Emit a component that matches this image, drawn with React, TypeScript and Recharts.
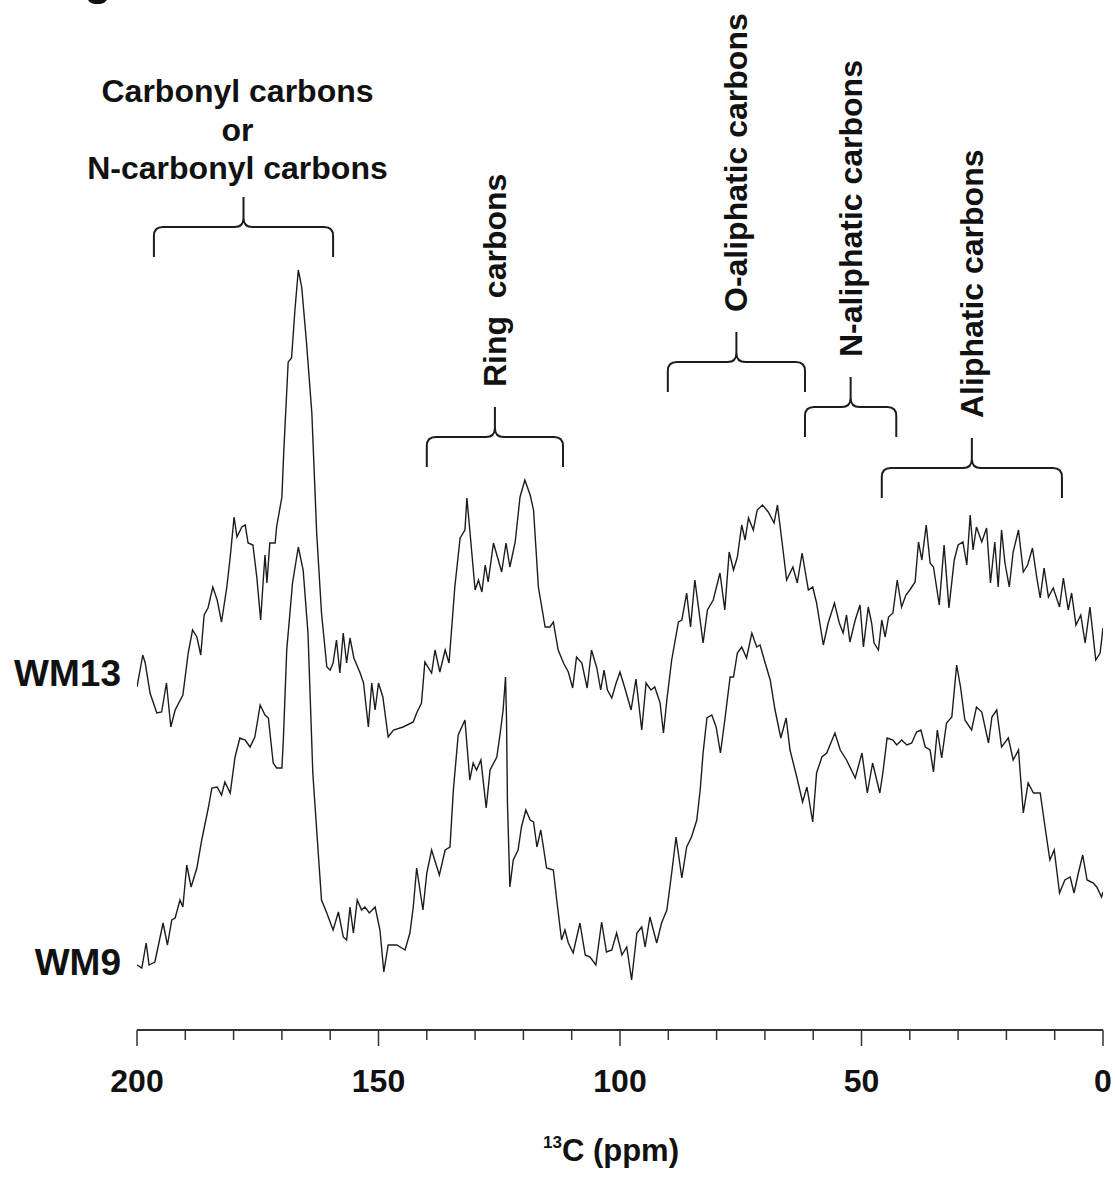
import React from 'react';
import { LineChart, Line, XAxis, YAxis, ReferenceArea, ReferenceDot, Label } from 'recharts';

// [ppm, intensity (a.u.)]
const wm13: [number, number][] = [
  [200.0,343],[198.8,375],[198.3,367],[197.3,337],[195.9,317],[194.9,318],[193.9,347],[193.0,303],[192.1,320],[190.5,335],
  [189.4,377],[188.5,400],[187.6,393],[186.8,375],[186.1,415],[185.3,422],[184.3,443],[183.4,430],[182.5,408],[181.4,443],
  [180.7,473],[179.9,513],[179.3,493],[178.3,503],[177.6,505],[177.0,487],[176.0,485],[175.2,453],[174.4,410],[173.9,447],
  [173.5,475],[173.1,447],[172.5,487],[171.4,487],[171.1,503],[170.0,533],[169.6,580],[168.7,668],[168.0,672],[167.3,720],
  [166.6,760],[165.9,743],[164.9,687],[163.8,617],[162.8,497],[161.8,417],[160.7,363],[160.0,360],[159.4,367],[158.7,390],
  [158.0,357],[157.3,397],[156.6,367],[155.9,392],[155.1,372],[153.8,357],[153.1,347],[152.1,303],[151.4,347],[150.7,320],
  [150.0,347],[149.1,333],[148.0,293],[146.9,300],[144.9,303],[142.8,308],[142.1,317],[141.1,327],[140.4,368],[139.0,357],
  [138.3,380],[137.3,358],[136.2,380],[135.4,367],[134.2,443],[133.1,492],[132.1,500],[131.7,532],[131.1,500],[130.0,440],
  [129.3,450],[128.6,438],[127.9,465],[127.3,448],[126.2,487],[125.2,470],[124.5,458],[123.6,487],[122.8,463],[121.7,488],
  [120.7,533],[119.7,550],[118.6,535],[117.9,520],[116.9,443],[115.5,403],[114.5,403],[113.8,408],[112.8,380],[111.7,367],
  [110.7,358],[109.8,342],[109.0,373],[107.9,367],[106.8,342],[105.9,380],[104.8,362],[104.0,340],[103.3,360],[102.6,340],
  [101.7,332],[100.8,347],[100.0,358],[99.0,342],[97.7,320],[96.7,351],[95.5,300],[94.6,347],[93.6,340],[92.8,343],
  [91.7,327],[91.0,297],[90.3,330],[89.3,370],[87.9,408],[87.2,410],[86.2,437],[85.4,403],[84.5,450],[83.6,417],
  [82.8,387],[81.9,420],[80.7,430],[79.3,457],[78.3,420],[77.4,478],[76.5,460],[75.7,473],[74.8,505],[74.1,490],
  [73.4,512],[72.4,500],[71.6,520],[70.5,525],[69.3,518],[68.1,507],[67.4,525],[66.5,490],[65.5,450],[64.2,463],
  [63.3,447],[62.3,477],[61.0,440],[60.1,443],[59.3,427],[57.9,385],[56.9,407],[55.6,427],[54.6,407],[53.8,397],
  [53.1,415],[52.4,388],[51.3,410],[50.3,425],[49.6,383],[48.6,423],[47.9,407],[47.4,387],[46.5,380],[45.8,410],
  [45.1,393],[44.4,413],[43.5,417],[42.6,450],[41.7,423],[40.8,435],[40.0,440],[38.9,448],[38.2,488],[37.5,470],
  [36.6,505],[35.8,467],[35.1,463],[33.9,425],[32.9,485],[31.9,422],[30.8,470],[30.0,485],[29.0,488],[28.2,465],
  [27.5,515],[26.9,480],[26.2,503],[25.1,488],[24.1,502],[23.3,447],[22.4,488],[21.7,443],[21.0,500],[20.3,467],
  [19.4,443],[18.6,478],[17.5,500],[16.5,458],[15.6,465],[14.6,482],[13.7,452],[13.0,432],[12.2,462],[11.3,433],
  [10.3,442],[9.0,423],[8.2,452],[7.2,420],[6.5,437],[5.6,405],[4.6,415],[3.7,387],[2.7,423],[1.5,370],
  [0.6,377],[0.0,402],
];

const wm9: [number, number][] = [
  [200.0,65],[199.0,62],[198.1,87],[197.5,65],[196.3,68],[194.6,107],[193.7,85],[192.8,110],[192.1,112],[191.1,130],
  [190.5,123],[189.7,165],[188.8,143],[187.6,162],[186.6,190],[185.2,223],[184.5,242],[183.4,243],[182.5,235],[181.8,248],
  [180.7,237],[179.7,273],[178.7,292],[177.6,290],[176.6,283],[175.6,293],[174.5,325],[173.5,315],[172.8,312],[171.8,267],
  [171.1,262],[170.0,262],[169.7,290],[169.0,380],[167.8,447],[166.6,483],[165.6,460],[164.6,397],[163.6,257],[162.8,200],
  [161.8,130],[160.7,117],[159.4,100],[158.3,118],[157.3,93],[156.6,90],[155.9,123],[155.2,97],[154.4,130],[153.5,120],
  [152.8,123],[151.9,117],[150.7,123],[149.7,100],[148.9,58],[148.0,85],[146.2,85],[144.5,80],[143.5,97],[142.8,123],
  [142.1,162],[140.8,120],[140.0,157],[139.0,180],[137.4,155],[136.2,180],[135.2,183],[134.5,240],[133.5,295],[132.1,310],
  [131.1,250],[130.4,267],[129.7,260],[128.8,270],[127.7,222],[126.9,260],[125.5,273],[124.8,297],[124.2,320],[123.7,353],
  [123.5,313],[123.3,227],[122.8,143],[122.1,170],[121.1,180],[120.4,203],[119.5,220],[118.6,210],[117.9,208],[117.2,183],
  [116.4,200],[115.2,162],[113.8,160],[113.1,130],[112.1,90],[111.4,100],[110.7,87],[109.7,77],[108.3,107],[107.2,75],
  [106.2,73],[105.0,65],[103.8,108],[102.8,78],[101.7,80],[100.7,97],[99.6,75],[98.6,83],[97.6,50],[96.5,97],
  [95.5,103],[94.8,83],[93.8,113],[92.4,87],[91.4,107],[90.3,120],[89.3,157],[88.4,193],[87.2,152],[86.2,183],
  [85.2,193],[84.1,210],[83.4,240],[82.8,277],[82.0,312],[81.0,315],[80.1,303],[79.2,277],[78.3,310],[77.2,353],
  [76.5,353],[75.7,377],[74.8,383],[73.8,372],[72.7,397],[71.7,383],[71.0,385],[70.0,368],[68.9,350],[67.9,320],
  [66.7,292],[65.6,312],[64.8,280],[63.4,253],[62.2,228],[61.3,243],[60.1,208],[59.3,257],[58.2,273],[57.2,277],
  [55.5,297],[54.4,280],[53.1,270],[51.3,252],[49.9,277],[48.8,237],[47.7,267],[46.2,237],[45.5,260],[44.7,292],
  [43.5,290],[42.7,285],[41.7,290],[40.6,285],[39.6,287],[38.6,298],[37.7,300],[36.8,283],[35.8,280],[35.1,258],
  [34.3,300],[33.4,272],[32.4,307],[31.3,313],[30.3,365],[29.5,343],[28.6,310],[27.2,300],[26.2,323],[25.1,318],
  [23.7,287],[23.0,313],[22.0,320],[21.0,283],[19.6,292],[18.6,270],[17.5,280],[16.5,217],[15.5,247],[14.4,237],
  [13.0,237],[12.0,203],[11.0,170],[10.1,180],[9.0,137],[7.9,150],[6.8,153],[6.0,137],[5.1,157],[4.2,175],
  [3.3,150],[2.0,147],[1.3,143],[0.3,133],[0.0,138],
];

const xTicks = [200, 190, 180, 170, 160, 150, 140, 130, 120, 110, 100, 90, 80, 70, 60, 50, 40, 30, 20, 10, 0];

// region brackets: ppm span and intensity level of the bar
const brackets = [
  { lines: ['Carbonyl carbons', 'or', 'N-carbonyl carbons'], from: 196.5, to: 159.4, level: 803, vertical: false },
  { lines: ['Ring  carbons'], from: 140.0, to: 111.8, level: 593, vertical: true },
  { lines: ['O-aliphatic carbons'], from: 90.1, to: 61.7, level: 668, vertical: true },
  { lines: ['N-aliphatic carbons'], from: 61.7, to: 42.8, level: 623, vertical: true },
  { lines: ['Aliphatic carbons'], from: 45.8, to: 8.5, level: 562, vertical: true },
];

const seriesLabels = [
  { name: 'WM13', level: 357 },
  { name: 'WM9', level: 68 },
];

const FONT = '"Liberation Sans", Arial, Helvetica, sans-serif';
const INK = '#1c1c1c';
const LEG = 30;
const TIP = 30;

const toRows = (arr: [number, number][]) => arr.map(([ppm, v]) => ({ ppm, v }));

const AxisTick = (props: any) => {
  const { x, y, payload } = props;
  const major = payload.value % 50 === 0;
  return (
    <g>
      <line x1={x} y1={y} x2={x} y2={y + (major ? 16 : 10)} stroke="#333" strokeWidth={1.5} />
      {major && (
        <text x={x} y={y + 62} textAnchor="middle" fontFamily={FONT} fontWeight="bold" fontSize={32} fill="#111">
          {payload.value}
        </text>
      )}
    </g>
  );
};

const Brace = (props: any) => {
  const { x, y, width, height, lines, vertical } = props;
  if (x == null || y == null) return null;
  const r = 9;
  const cx = x + width / 2;
  const x2 = x + width;
  const yb = y + height;
  const d = [
    `M ${x} ${yb} L ${x} ${y + r} Q ${x} ${y} ${x + r} ${y} L ${cx - r} ${y} Q ${cx} ${y} ${cx} ${y - r} L ${cx} ${y - TIP}`,
    `M ${cx} ${y - r} Q ${cx} ${y} ${cx + r} ${y} L ${x2 - r} ${y} Q ${x2} ${y} ${x2} ${y + r} L ${x2} ${yb}`,
  ].join(' ');
  const tipTop = y - TIP;
  return (
    <g>
      <path d={d} fill="none" stroke={INK} strokeWidth={2} />
      {vertical ? (
        <text
          x={cx}
          y={tipTop - 20}
          transform={`rotate(-90 ${cx} ${tipTop - 20})`}
          textAnchor="start"
          dominantBaseline="central"
          fontFamily={FONT}
          fontWeight="bold"
          fontSize={32}
          fill="#111"
          style={{ whiteSpace: 'pre' }}
        >
          {lines[0]}
        </text>
      ) : (
        lines.map((t: string, i: number) => (
          <text
            key={i}
            x={cx - 6}
            y={tipTop - 18 - (lines.length - 1 - i) * 38.5}
            textAnchor="middle"
            fontFamily={FONT}
            fontWeight="bold"
            fontSize={32}
            fill="#111"
          >
            {t}
          </text>
        ))
      )}
    </g>
  );
};

const TitleLabel = (props: any) => {
  const vb = props.viewBox || {};
  const { x = 0, y = 0, width = 0 } = vb;
  return (
    <text x={x + width / 2 - 9} y={y + 131} textAnchor="middle" fontFamily={FONT} fontWeight="bold" fill="#111">
      <tspan fontSize={17} dy={-13}>13</tspan>
      <tspan fontSize={31} dy={13}>C (ppm)</tspan>
    </text>
  );
};

export default function App() {
  return (
    <div style={{ position: 'absolute', left: 0, top: 0, width: 1115, height: 1180, background: '#fff', overflow: 'hidden' }}>
      <svg width={60} height={10} style={{ position: 'absolute', left: 80, top: 0 }}>
        <text x={18} y={-5} textAnchor="middle" fontFamily={FONT} fontWeight="bold" fontSize={44} fill="#111">g</text>
      </svg>
      <LineChart width={1115} height={1180} margin={{ top: 30, right: 12, bottom: 0, left: 137 }}>
        <XAxis
          type="number"
          dataKey="ppm"
          domain={[0, 200]}
          reversed
          ticks={xTicks}
          interval={0}
          height={150}
          tickSize={0}
          tickMargin={0}
          tick={AxisTick}
          axisLine={{ stroke: '#333', strokeWidth: 2 }}
          allowDataOverflow
        >
          <Label content={TitleLabel} position="bottom" />
        </XAxis>
        <YAxis type="number" domain={[0, 1000]} hide allowDataOverflow />
        {brackets.map((b, i) => (
          <ReferenceArea
            key={i}
            x1={b.from}
            x2={b.to}
            y1={b.level - LEG}
            y2={b.level}
            ifOverflow="visible"
            shape={(p: any) => <Brace {...p} lines={b.lines} vertical={b.vertical} />}
          />
        ))}
        {seriesLabels.map((s) => (
          <ReferenceDot
            key={s.name}
            x={200}
            y={s.level}
            r={0}
            ifOverflow="visible"
            shape={(p: any) => (
              <text
                x={p.cx - 16}
                y={p.cy}
                textAnchor="end"
                dominantBaseline="central"
                fontFamily={FONT}
                fontWeight="bold"
                fontSize={37}
                fill="#111"
              >
                {s.name}
              </text>
            )}
          />
        ))}
        <Line data={toRows(wm13)} dataKey="v" type="linear" stroke={INK} strokeWidth={1.4} dot={false} isAnimationActive={false} />
        <Line data={toRows(wm9)} dataKey="v" type="linear" stroke={INK} strokeWidth={1.4} dot={false} isAnimationActive={false} />
      </LineChart>
    </div>
  );
}
